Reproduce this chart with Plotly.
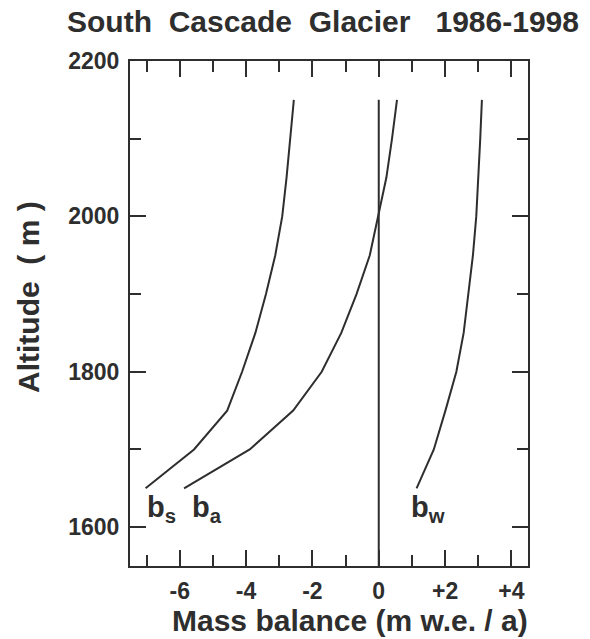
import plotly.graph_objects as go

# Data (altitude in m, mass balance in m w.e./a)
altitude = [1650, 1700, 1750, 1800, 1850, 1900, 1950, 2000, 2050, 2100, 2150]
b_s = [-7.03, -5.57, -4.57, -4.12, -3.72, -3.40, -3.12, -2.91, -2.78, -2.67, -2.56]
b_a = [-5.87, -3.89, -2.58, -1.72, -1.13, -0.67, -0.27, -0.02, 0.23, 0.40, 0.55]
b_w = [1.14, 1.66, 2.01, 2.34, 2.56, 2.71, 2.84, 2.94, 3.01, 3.06, 3.11]
zero_x = [0, 0]
zero_y = [1550, 2150]

x_tickvals = [-6, -4, -2, 0, 2, 4]
x_ticktext = ["-6", "-4", "-2", "0", "+2", "+4"]
y_tickvals = [1600, 1800, 2000, 2200]
y_ticktext = ["1600", "1800", "2000", "2200"]

labels = [
    ("b", "s", -7.05, 1624),
    ("b", "a", -5.68, 1624),
    ("b", "w", 0.92, 1624),
]

INK = "#2e2e2e"
FONT = "Arial, Liberation Sans, sans-serif"

fig = go.Figure()
line = dict(color=INK, width=2)
for xs in (b_s, b_a, b_w):
    fig.add_trace(go.Scatter(x=xs, y=altitude, mode="lines", line=line,
                             showlegend=False, hoverinfo="skip"))
fig.add_trace(go.Scatter(x=zero_x, y=zero_y, mode="lines", line=line,
                         showlegend=False, hoverinfo="skip"))

axis_common = dict(
    showgrid=False, zeroline=False, showline=True, linecolor=INK, linewidth=2,
    mirror="allticks", ticks="inside", ticklen=16, tickwidth=2, tickcolor=INK,
    tickfont=dict(family=FONT, size=23, color=INK, weight="bold"),
)

fig.update_xaxes(range=[-7.5, 4.5], tickmode="array", tickvals=x_tickvals,
                 ticktext=["<b>%s</b>" % t for t in x_ticktext], ticklabelstandoff=3,
                 minor=dict(ticks="inside", ticklen=11, tickwidth=2, tickcolor=INK,
                            tickmode="linear", tick0=-7, dtick=2),
                 **axis_common)
fig.update_yaxes(range=[1550, 2200], tickmode="array", tickvals=y_tickvals,
                 ticktext=["<b>%s</b>" % t for t in y_ticktext], ticklabelstandoff=4,
                 minor=dict(ticks="inside", ticklen=11, tickwidth=2, tickcolor=INK,
                            tickmode="linear", tick0=1700, dtick=200),
                 **axis_common)

W, H = 590, 639
L, R, T, B = 130, 62, 61, 73
pw, ph = W - L - R, H - T - B

def px2paper(px, py):
    return (px - L) / pw, (H - B - py) / ph

annotations = []
for base, sub, x, y in labels:
    annotations.append(dict(x=x, y=y, xref="x", yref="y",
                            text="<b>%s<sub>%s</sub></b>" % (base, sub), showarrow=False,
                            xanchor="left", yanchor="middle",
                            font=dict(family=FONT, size=29, color=INK, weight="bold")))

tx, ty = px2paper(323, 22)
annotations.append(dict(x=tx, y=ty, xref="paper", yref="paper",
                        text="<b>South  Cascade  Glacier   1986-1998</b>", showarrow=False,
                        font=dict(family=FONT, size=30, color=INK, weight="bold"),
                        xanchor="center", yanchor="middle"))
mx, my = px2paper(350, 620)
annotations.append(dict(x=mx, y=my, xref="paper", yref="paper",
                        text="<b>Mass balance (m w.e. / a)</b>", showarrow=False,
                        xanchor="center", yanchor="middle",
                        font=dict(family=FONT, size=30, color=INK, weight="bold")))
ax, ay = px2paper(28, 297)
annotations.append(dict(x=ax, y=ay, xref="paper", yref="paper",
                        text="<b>Altitude  ( m )</b>", showarrow=False, textangle=-90,
                        xanchor="center", yanchor="middle",
                        font=dict(family=FONT, size=30, color=INK, weight="bold")))

fig.update_layout(
    annotations=annotations,
    width=W, height=H,
    margin=dict(l=L, r=R, t=T, b=B, pad=0),
    paper_bgcolor="white", plot_bgcolor="white",
)

fig.write_html("out.html")
